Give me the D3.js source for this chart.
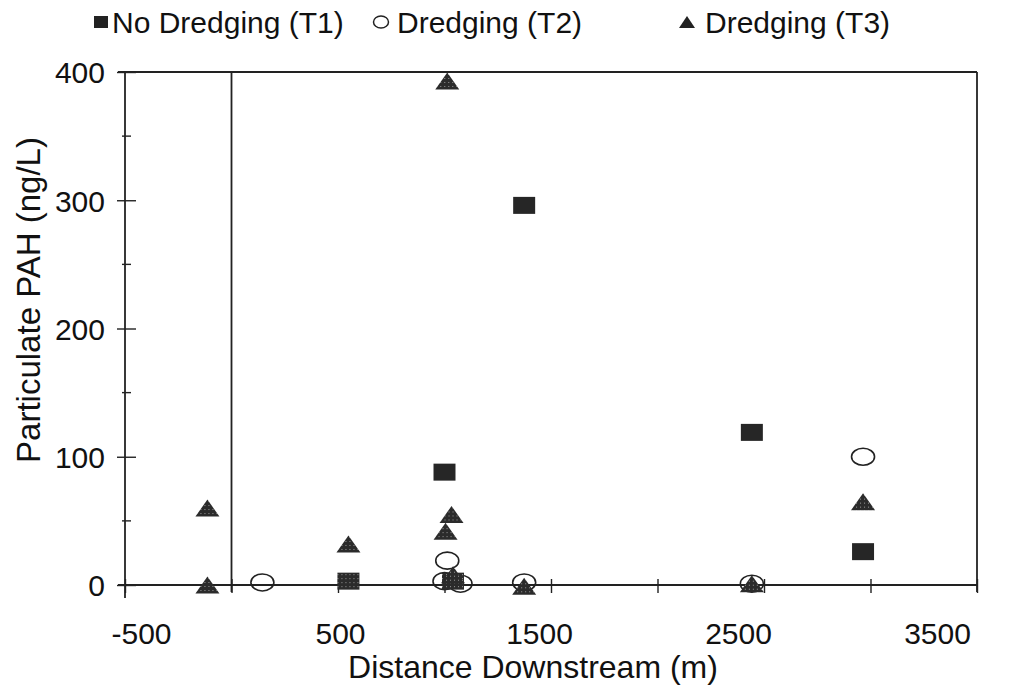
<!DOCTYPE html>
<html>
<head>
<meta charset="utf-8">
<script src="https://cdn.jsdelivr.net/npm/d3@7"></script>
<style>
  body { margin: 0; background: #fff; }
  svg text { font-family: "Liberation Sans", Arial, sans-serif; fill: #111; }
</style>
</head>
<body>
<div class="canvas"></div>
<script>
// what to show
var t1Dist = [549, 1040, 1374, 1000, 2443, 2965],
    t1Pah = [3, 3, 296, 88, 119, 26];
var t2Dist = [145, 1013, 1000, 1075, 1374, 2443, 2965],
    t2Pah = [2, 19, 3, 1, 2, 1, 100];
var t3Dist = [-113, -113, 549, 1013, 1005, 1033, 1040, 1374, 2443, 2965],
    t3Pah = [60, 0, 32, 393, 42, 55, 8, -1, 1, 65];

var xTicks = [-500, 0, 500, 1000, 1500, 2000, 2500, 3000, 3500],
    xLabels = [-500, 500, 1500, 2500, 3500],
    yTicks = [0, 100, 200, 300, 400],
    yMinor = [50, 150, 250, 350];

var legendNames = ['No Dredging (T1)', 'Dredging (T2)', 'Dredging (T3)'];

// where does it live
var width = 1013,
    height = 692;

var x = d3.scaleLinear().domain([-500, 3500]).range([125, 977]),
    xLab = d3.scaleLinear().domain([-500, 3500]).range([141, 937]),
    y = d3.scaleLinear().domain([0, 400]).range([585, 72]);

var svg = d3.select('.canvas').append('svg')
    .attr('width', width)
    .attr('height', height);

var defs = svg.append('defs');
var pat = defs.append('pattern')
    .attr('id', 'stip')
    .attr('patternUnits', 'userSpaceOnUse')
    .attr('width', 4).attr('height', 4);
pat.append('rect').attr('width', 4).attr('height', 4).attr('fill', '#2b2b2b');
pat.append('rect').attr('x', 1).attr('y', 1).attr('width', 1).attr('height', 1).attr('fill', '#9a9a9a');

// frame
var ink = '#222';
svg.append('line').attr('x1', 118).attr('x2', x(3500)).attr('y1', y(400)).attr('y2', y(400))
    .attr('stroke', ink).attr('stroke-width', 1.8);
svg.append('line').attr('x1', x(3500)).attr('x2', x(3500)).attr('y1', y(400)).attr('y2', 592)
    .attr('stroke', ink).attr('stroke-width', 1.8);
svg.append('line').attr('x1', x(0)).attr('x2', x(0)).attr('y1', y(400)).attr('y2', 592)
    .attr('stroke', ink).attr('stroke-width', 1.8);

// x axis: ticks crossing the line
var xAxis = svg.append('g')
    .attr('transform', 'translate(0,' + y(0) + ')')
    .call(d3.axisBottom(x).tickValues(xTicks).tickSize(0).tickFormat(''));
xAxis.select('.domain').attr('stroke', ink).attr('stroke-width', 1.8).attr('d', 'M118,0H977');
xAxis.selectAll('.tick').append('line')
    .attr('y1', -6).attr('y2', 8).attr('stroke', ink).attr('stroke-width', 1.4);

svg.append('g')
    .attr('transform', 'translate(0,' + (y(0) + 59) + ')')
    .call(d3.axisBottom(xLab).tickValues(xLabels).tickSize(0).tickFormat(function (d) { return String(d); }))
    .call(function (g) { g.select('.domain').remove(); })
    .selectAll('text')
    .attr('y', 0).attr('dy', 0)
    .attr('font-size', 30)
    .attr('fill', '#111');

// y axis
var yAxis = svg.append('g')
    .attr('transform', 'translate(' + x(-500) + ',0)')
    .call(d3.axisLeft(y).tickValues(yTicks).tickSize(0).tickFormat(d3.format('d')));
yAxis.select('.domain').attr('stroke', ink).attr('stroke-width', 1.8).attr('d', 'M0,72V598');
yAxis.selectAll('.tick line').remove();
yAxis.selectAll('.tick').append('line')
    .attr('x1', -8).attr('x2', 11).attr('stroke', ink).attr('stroke-width', 1.4);
yAxis.selectAll('.tick text')
    .attr('x', -20).attr('dy', '0.36em')
    .attr('font-size', 30).attr('fill', '#111');
yAxis.selectAll('.minor')
    .data(yMinor).enter().append('line')
    .attr('x1', -3).attr('x2', 6)
    .attr('y1', function (d) { return y(d); })
    .attr('y2', function (d) { return y(d); })
    .attr('stroke', ink).attr('stroke-width', 1.4);

// axis titles
svg.append('text')
    .attr('x', 533).attr('y', 678)
    .attr('text-anchor', 'middle')
    .attr('font-size', 32)
    .text('Distance Downstream (m)');
svg.append('text')
    .attr('transform', 'translate(40,300) rotate(-90)')
    .attr('text-anchor', 'middle')
    .attr('font-size', 33)
    .text('Particulate PAH (ng/L)');

// marker shapes, a bit wider than tall like the scan
function square(w, h) {
    return 'M' + (-w / 2) + ',' + (-h / 2) + 'h' + w + 'v' + h + 'h' + (-w) + 'Z';
}
function triangle(w, h) {
    return 'M0,' + (-h / 2) + 'L' + (w / 2) + ',' + (h / 2) + 'L' + (-w / 2) + ',' + (h / 2) + 'Z';
}

var pts = svg.append('g');

pts.selectAll('.t2')
    .data(d3.zip(t2Dist, t2Pah)).enter().append('ellipse')
    .attr('cx', function (d) { return x(d[0]); })
    .attr('cy', function (d) { return y(d[1]); })
    .attr('rx', 11.5).attr('ry', 8.5)
    .attr('fill', 'none').attr('stroke', '#222').attr('stroke-width', 1.6);

pts.selectAll('.t1')
    .data(d3.zip(t1Dist, t1Pah)).enter().append('path')
    .attr('d', square(22, 17))
    .attr('transform', function (d) { return 'translate(' + x(d[0]) + ',' + y(d[1]) + ')'; })
    .attr('fill', function (d) { return d[1] < 10 ? 'url(#stip)' : '#262626'; });

pts.selectAll('.t3')
    .data(d3.zip(t3Dist, t3Pah)).enter().append('path')
    .attr('d', triangle(24, 17))
    .attr('transform', function (d) { return 'translate(' + x(d[0]) + ',' + y(d[1]) + ')'; })
    .attr('fill', 'url(#stip)');

// legend
var legend = svg.append('g');
legend.append('path').attr('d', square(14, 12))
    .attr('transform', 'translate(101,22)').attr('fill', '#222');
legend.append('ellipse').attr('cx', 381).attr('cy', 22).attr('rx', 7.5).attr('ry', 6)
    .attr('fill', 'none').attr('stroke', '#222').attr('stroke-width', 1.5);
legend.append('path').attr('d', triangle(16, 12))
    .attr('transform', 'translate(687,22)').attr('fill', '#222');
legend.selectAll('text')
    .data(legendNames).enter().append('text')
    .attr('x', function (d, i) { return [112, 397, 705][i]; })
    .attr('y', 33)
    .attr('font-size', 30)
    .text(function (d) { return d; });
</script>
</body>
</html>
